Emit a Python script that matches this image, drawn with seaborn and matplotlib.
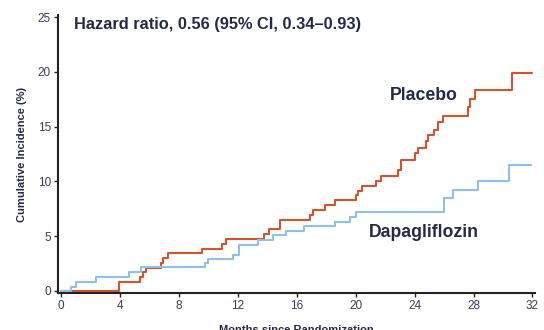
import matplotlib
matplotlib.use("Agg")
import matplotlib.pyplot as plt
import seaborn as sns
import pandas as pd

# Cumulative incidence (%) (step changes)
placebo_t = [0, 3.95, 5.35, 5.55, 5.8, 6.8, 6.95, 7.25, 9.6, 10.9, 11.2, 13.8, 14.15,
             14.9, 16.9, 17.1, 17.9, 18.6, 20.0, 20.15, 20.4, 21.4, 21.7, 22.9, 23.1,
             24.05, 24.2, 24.75, 24.9, 25.3, 25.6, 25.95, 27.6, 27.75, 28.1, 30.6, 32.0]
placebo_v = [0, 0.82, 1.28, 1.68, 2.1, 2.5, 2.95, 3.45, 3.85, 4.3, 4.75, 5.2, 5.6,
             6.45, 6.9, 7.35, 7.8, 8.25, 8.7, 9.15, 9.6, 10.0, 10.5, 11.0, 11.95,
             12.55, 13.05, 13.65, 14.2, 14.7, 15.4, 16.0, 16.75, 17.5, 18.3, 19.9, 19.9]

dapa_t = [0, 0.68, 1.0, 2.4, 4.6, 5.4, 9.8, 9.95, 11.65, 12.1, 13.4, 14.4, 15.25,
          16.5, 18.6, 19.6, 20.0, 26.0, 26.6, 28.3, 30.4, 31.9]
dapa_v = [0, 0.37, 0.82, 1.28, 1.73, 2.13, 2.5, 2.9, 3.3, 4.2, 4.6, 5.1, 5.5,
          5.9, 6.3, 6.75, 7.2, 8.5, 9.2, 10.0, 11.45, 11.45]

x_ticks = [0, 4, 8, 12, 16, 20, 24, 28, 32]
y_ticks = [0, 5, 10, 15, 20, 25]

navy = "#26284a"
red = "#d4532a"
blue = "#8ec0ec"

sns.set_theme(style="ticks")
plt.rcParams["font.family"] = ["Liberation Sans", "DejaVu Sans"]

fig = plt.figure(figsize=(5.44, 3.30), dpi=100)
ax = fig.add_axes([0.1066, 0.111, 0.876, 0.844])

df_p = pd.DataFrame({"t": placebo_t, "v": placebo_v})
df_d = pd.DataFrame({"t": dapa_t, "v": dapa_v})
sns.lineplot(data=df_p, x="t", y="v", ax=ax, color=red, linewidth=1.5,
             drawstyle="steps-post", estimator=None, sort=False)
sns.lineplot(data=df_d, x="t", y="v", ax=ax, color=blue, linewidth=1.5,
             drawstyle="steps-post", estimator=None, sort=False)

ax.set_xlim(-0.2, 32.14)
ax.set_ylim(-0.24, 25.2)
ax.set_xticks(x_ticks)
ax.set_yticks(y_ticks)
ax.tick_params(axis="both", labelsize=8.5, labelcolor="#3a3c5a", length=3,
               width=1.0, color="#222222", pad=2)
for s in ["left", "bottom"]:
    ax.spines[s].set_linewidth(1.5)
    ax.spines[s].set_color("#222222")
sns.despine(ax=ax)

ax.set_xlabel("Months since Randomization", fontsize=8, fontweight="bold",
              color=navy, labelpad=9)
ax.set_ylabel("Cumulative Incidence (%)", fontsize=8, fontweight="bold",
              color=navy, labelpad=8)

ax.text(0.88, 24.3, "Hazard ratio, 0.56 (95% CI, 0.34\u20130.93)", fontsize=11.8,
        fontweight="bold", color=navy, va="center", ha="left")
ax.text(22.35, 17.8, "Placebo", fontsize=12.7, fontweight="bold", color=navy,
        va="center", ha="left")
ax.text(20.9, 5.3, "Dapagliflozin", fontsize=12.7, fontweight="bold", color=navy,
        va="center", ha="left")

fig.savefig("out.png", dpi=100)
